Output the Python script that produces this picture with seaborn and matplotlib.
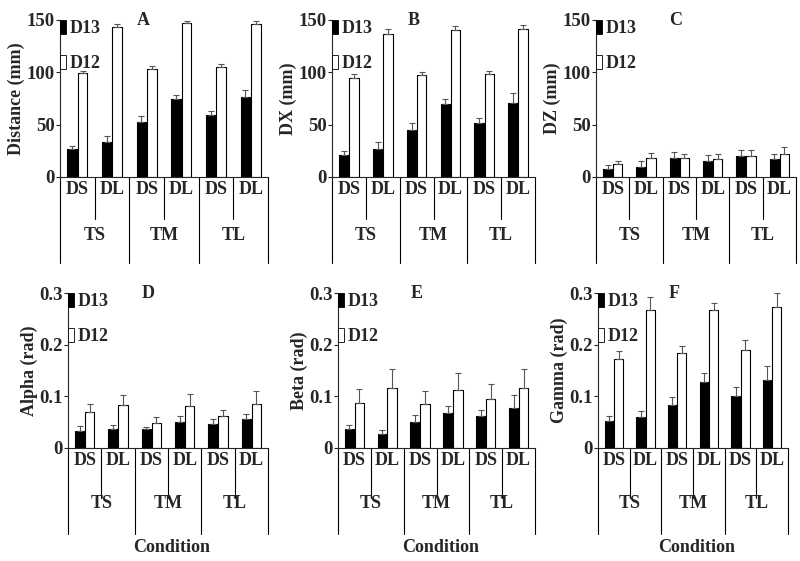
import numpy as np
import pandas as pd
import matplotlib
matplotlib.use('Agg')
import matplotlib.pyplot as plt
from matplotlib.patches import Patch
from matplotlib.transforms import blended_transform_factory
import seaborn as sns

sns.set_theme(style='ticks')
plt.rcParams['font.family'] = ['Liberation Serif', 'DejaVu Serif']
plt.rcParams['font.weight'] = 'bold'
plt.rcParams['axes.labelweight'] = 'bold'

# conditions: target size (TS/TM/TL) x distance (DS/DL)
targets = ['TS', 'TM', 'TL']
distances = ['DS', 'DL']
days = ['D13', 'D12']

# A - Distance (mm)
dist_d13 = [26.5, 33.8, 52.3, 74.7, 59.7, 76.3]
dist_d13_err = [3.5, 5.8, 6.1, 4.1, 3.8, 6.7]
dist_d12 = [99.6, 143, 103, 146.8, 104.7, 146]
dist_d12_err = [1.9, 3, 2.6, 2.2, 2.8, 3]

# B - DX (mm)
dx_d13 = [21, 27, 45, 69.3, 51.4, 70.5]
dx_d13_err = [4.2, 6.2, 6.4, 5.4, 4.5, 9.3]
dx_d12 = [95, 137, 97, 140.4, 98.6, 141.7]
dx_d12_err = [3, 4, 3, 3.6, 2.9, 3.8]

# C - DZ (mm)
dz_d13 = [7.4, 10, 18, 15.7, 20.2, 17.6]
dz_d13_err = [3.8, 5.4, 6, 5.1, 5.4, 4.8]
dz_d12 = [12.8, 18.6, 18.6, 17.3, 20.2, 22]
dz_d12_err = [2.2, 4.8, 3.8, 4.5, 5.4, 6.8]

# D - Alpha (rad)
alpha_d13 = [0.032, 0.037, 0.036, 0.051, 0.047, 0.056]
alpha_d13_err = [0.011, 0.007, 0.005, 0.0105, 0.009, 0.010]
alpha_d12 = [0.0705, 0.083, 0.048, 0.082, 0.0615, 0.085]
alpha_d12_err = [0.014, 0.019, 0.012, 0.022, 0.0115, 0.025]

# E - Beta (rad)
beta_d13 = [0.036, 0.027, 0.051, 0.067, 0.061, 0.078]
beta_d13_err = [0.008, 0.008, 0.012, 0.015, 0.013, 0.024]
beta_d12 = [0.088, 0.117, 0.085, 0.113, 0.094, 0.117]
beta_d12_err = [0.027, 0.036, 0.025, 0.033, 0.029, 0.035]

# F - Gamma (rad)
gamma_d13 = [0.052, 0.0596, 0.084, 0.127, 0.10, 0.131]
gamma_d13_err = [0.0095, 0.0114, 0.015, 0.018, 0.018, 0.027]
gamma_d12 = [0.173, 0.268, 0.183, 0.267, 0.19, 0.273]
gamma_d12_err = [0.014, 0.025, 0.014, 0.014, 0.019, 0.027]

panels = [
    ('A', 'Distance (mm)', dist_d13, dist_d13_err, dist_d12, dist_d12_err, 150),
    ('B', 'DX (mm)', dx_d13, dx_d13_err, dx_d12, dx_d12_err, 150),
    ('C', 'DZ (mm)', dz_d13, dz_d13_err, dz_d12, dz_d12_err, 150),
    ('D', 'Alpha (rad)', alpha_d13, alpha_d13_err, alpha_d12, alpha_d12_err, 0.3),
    ('E', 'Beta (rad)', beta_d13, beta_d13_err, beta_d12, beta_d12_err, 0.3),
    ('F', 'Gamma (rad)', gamma_d13, gamma_d13_err, gamma_d12, gamma_d12_err, 0.3),
]

# axes boxes in pixels: left, right, y of top tick, y of zero
W, H = 800, 561
boxes = [
    (60, 268, 20, 177), (332, 535, 20, 177), (596, 796, 20, 177),
    (68, 268, 293, 448), (338, 535, 293, 448), (598, 788, 293, 448),
]

conds = [t + ' ' + d for t in targets for d in distances]

fig = plt.figure(figsize=(8, 5.61), dpi=100)
fs = 13

for i, (letter, ylab, d13, e13, d12, e12, top) in enumerate(panels):
    l, r, t, b = boxes[i]
    ax = fig.add_axes([l / W, 1 - b / H, (r - l) / W, (b - t) / H])
    df = pd.DataFrame({
        'cond': conds * 2,
        'day': ['D13'] * 6 + ['D12'] * 6,
        'val': list(d13) + list(d12),
    })
    sns.barplot(data=df, x='cond', y='val', hue='day', hue_order=days,
                palette=['black', 'white'], edgecolor='black', linewidth=0.8,
                errorbar=None, width=0.6, gap=0.05, legend=False, ax=ax)
    for cont, err in zip(ax.containers, [e13, e12]):
        xs = [p.get_x() + p.get_width() / 2 for p in cont]
        ys = [p.get_height() for p in cont]
        ax.errorbar(xs, ys, yerr=[np.zeros(6), err], fmt='none',
                    ecolor='#555555', elinewidth=0.8, capsize=2, capthick=0.8,
                    zorder=1)

    ax.set_xlim(-0.5, 5.5)
    ax.set_ylim(0, top)
    if top == 150:
        ax.set_yticks([0, 50, 100, 150], labels=['0', '50', '100', '150'])
    else:
        ax.set_yticks([0, 0.1, 0.2, 0.3], labels=['0', '0.1', '0.2', '0.3'])
    ax.set_xticks(range(6), labels=distances * 3)
    ax.tick_params(axis='x', length=0, pad=3, labelsize=fs)
    ax.tick_params(axis='y', length=3, width=0.8, pad=1, labelsize=fs + 0.5)
    ax.set_xlabel('')
    ax.set_ylabel(ylab, fontsize=fs, fontweight='bold', labelpad=1)
    for lab in ax.get_xticklabels() + ax.get_yticklabels():
        lab.set_fontweight('bold')
    sns.despine(ax=ax)
    ax.spines['left'].set_linewidth(0.8)
    ax.spines['bottom'].set_linewidth(0.8)

    # category table below the axis
    axh = b - t
    top_row = i < 3
    short = (42 if top_row else 50) / axh
    long_ = 86 / axh
    group_y = (59 if top_row else 56) / axh
    tr = blended_transform_factory(ax.transData, ax.transAxes)
    for x in [-0.5, 1.5, 3.5, 5.5]:
        ax.plot([x, x], [0, -long_], transform=tr, color='black', lw=0.8,
                clip_on=False)
    for x in [0.5, 2.5, 4.5]:
        ax.plot([x, x], [0, -short], transform=tr, color='black', lw=0.8,
                clip_on=False)
    for k, name in enumerate(targets):
        ax.text(2 * k + 0.5, -group_y, name, transform=tr, ha='center',
                va='center', fontsize=fs, fontweight='bold')
    if not top_row:
        ax.text(0.52, -99 / axh, 'Condition', transform=ax.transAxes,
                ha='center', va='center', fontsize=fs, fontweight='bold')

    ax.text(0.4, 0.995, letter, transform=ax.transAxes, ha='center',
            va='center', fontsize=fs, fontweight='bold')

    handles = [Patch(facecolor='black', edgecolor='black', lw=0.6),
               Patch(facecolor='white', edgecolor='black', lw=0.6)]
    ax.legend(handles, days, loc='upper left', bbox_to_anchor=(0.0, 1.0),
              frameon=False, handlelength=0.35, handleheight=0.8,
              handletextpad=0.2, labelspacing=1.0, borderaxespad=0,
              borderpad=0, prop={'size': fs, 'weight': 'bold'})

fig.savefig('out.png', dpi=100)
